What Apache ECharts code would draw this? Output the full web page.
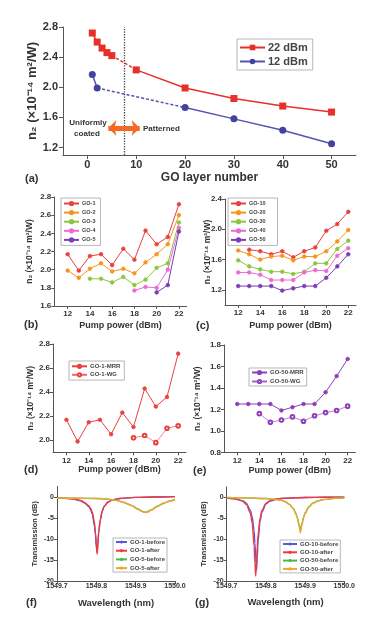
<!DOCTYPE html>
<html><head><meta charset="utf-8">
<script src="https://cdn.jsdelivr.net/npm/echarts@6/dist/echarts.min.js"></script>
<style>html,body{margin:0;padding:0;background:#fff}#c{width:387px;height:632px}</style>
</head><body><div id="c"></div>
<script>
// ---------------- DATA ----------------
// (a) n2 vs GO layer number
const layers22 = [1, 2, 3, 4, 5, 10, 20, 30, 40, 50];
const n2At22dBm = [2.72, 2.60, 2.52, 2.46, 2.42, 2.23, 1.99, 1.85, 1.75, 1.67];
const layers12 = [1, 2, 20, 30, 40, 50];
const n2At12dBm = [2.17, 1.99, 1.73, 1.58, 1.43, 1.25];
const boundaryLayer = 7.5;
const ticksLayer = [0, 10, 20, 30, 40, 50];
const ticksN2a = [1.2, 1.6, 2.0, 2.4, 2.8];

// pump power axis (b)-(e)
const pump = [12, 13, 14, 15, 16, 17, 18, 19, 20, 21, 22];
const ticksPump = [12, 14, 16, 18, 20, 22];

// (b)
const go1 = [2.17, 1.99, 2.15, 2.17, 2.05, 2.23, 2.11, 2.43, 2.28, 2.36, 2.72];
const go2 = [1.99, 1.91, 2.01, 2.07, 1.98, 2.01, 1.96, 2.08, 2.17, 2.28, 2.60];
const go3 = [null, null, 1.90, 1.90, 1.86, 1.92, 1.83, 1.89, 2.02, 2.07, 2.52];
const go4 = [null, null, null, null, null, null, 1.77, 1.81, 1.80, 2.00, 2.46];
const go5 = [null, null, null, null, null, null, null, null, 1.75, 1.83, 2.42];
const ticksN2b = [1.6, 1.8, 2.0, 2.2, 2.4, 2.6, 2.8];

// (c)
const go10 = [null, 1.73, 1.71, 1.67, 1.71, 1.63, 1.71, 1.76, 1.98, 2.07, 2.23];
const go20 = [1.72, 1.67, 1.60, 1.64, 1.65, 1.59, 1.64, 1.64, 1.71, 1.84, 1.99];
const go30 = [1.59, 1.51, 1.47, 1.44, 1.44, 1.41, 1.44, 1.55, 1.55, 1.74, 1.85];
const go40 = [1.43, 1.43, 1.40, 1.33, 1.33, 1.33, 1.43, 1.46, 1.45, 1.65, 1.75];
const go50 = [1.25, 1.25, 1.25, 1.25, 1.19, 1.22, 1.25, 1.25, 1.36, 1.51, 1.67];
const ticksN2c = [1.2, 1.6, 2.0, 2.4];

// (d)
const go1MRR = [2.17, 1.99, 2.15, 2.17, 2.05, 2.23, 2.11, 2.43, 2.28, 2.36, 2.72];
const go1WG = [null, null, null, null, null, null, 2.02, 2.04, 1.98, 2.10, 2.12];
const ticksN2d = [2.0, 2.2, 2.4, 2.6, 2.8];

// (e)
const go50MRR = [1.25, 1.25, 1.25, 1.25, 1.19, 1.22, 1.25, 1.25, 1.36, 1.51, 1.67];
const go50WG = [null, null, 1.16, 1.08, 1.10, 1.13, 1.09, 1.14, 1.17, 1.19, 1.23];
const ticksN2e = [0.8, 1.0, 1.2, 1.4, 1.6, 1.8];

// (f) spectra
const wlGo1 = [1549.700, 1549.720, 1549.740, 1549.760, 1549.770, 1549.780, 1549.785, 1549.790, 1549.795, 1549.798, 1549.800, 1549.802, 1549.804, 1549.806, 1549.810, 1549.815, 1549.820, 1549.830, 1549.840, 1549.860, 1549.880, 1549.900, 1549.950, 1550.000];
const go1Before = [-0.2, -0.3, -0.5, -0.9, -1.4, -2.2, -2.9, -4.2, -6.8, -9.2, -12.0, -13.0, -11.0, -8.2, -5.4, -3.3, -2.2, -1.2, -0.7, -0.35, -0.2, -0.1, 0.0, 0.1];
const go1After = [-0.2, -0.3, -0.45, -0.8, -1.3, -2.0, -2.6, -3.7, -6.0, -8.5, -11.5, -13.6, -11.5, -8.5, -5.5, -3.4, -2.2, -1.2, -0.7, -0.35, -0.2, -0.1, 0.0, 0.1];
const wlGo5 = [1549.700, 1549.750, 1549.800, 1549.830, 1549.850, 1549.870, 1549.890, 1549.905, 1549.915, 1549.920, 1549.925, 1549.930, 1549.940, 1549.955, 1549.970, 1549.985, 1550.000];
const go5Before = [-0.25, -0.3, -0.35, -0.5, -0.8, -1.3, -2.0, -2.8, -3.3, -3.5, -3.6, -3.5, -3.0, -2.2, -1.5, -1.0, -0.6];
const go5After = [-0.25, -0.3, -0.35, -0.5, -0.8, -1.3, -2.1, -2.9, -3.4, -3.6, -3.7, -3.6, -3.1, -2.3, -1.6, -1.0, -0.6];

// (g) spectra
const wlGo10 = [1549.700, 1549.720, 1549.740, 1549.750, 1549.760, 1549.765, 1549.770, 1549.772, 1549.774, 1549.776, 1549.778, 1549.780, 1549.785, 1549.790, 1549.800, 1549.810, 1549.830, 1549.850, 1549.900, 1549.950, 1550.000];
const go10Before = [-0.2, -0.35, -0.8, -1.4, -3.0, -4.6, -8.0, -11.0, -14.5, -17.5, -14.5, -10.5, -5.8, -3.5, -1.6, -0.9, -0.4, -0.2, -0.05, 0.0, 0.0];
const go10After = [-0.2, -0.38, -0.9, -1.7, -3.7, -6.2, -11.7, -15.7, -18.8, -15.7, -11.7, -8.9, -5.0, -3.1, -1.45, -0.8, -0.36, -0.2, -0.05, 0.0, 0.0];
const wlGo50 = [1549.700, 1549.750, 1549.800, 1549.820, 1549.840, 1549.850, 1549.860, 1549.870, 1549.876, 1549.880, 1549.884, 1549.888, 1549.892, 1549.896, 1549.900, 1549.910, 1549.920, 1549.935, 1549.950, 1549.975, 1550.000];
const go50Before = [-0.05, -0.15, -0.3, -0.45, -0.75, -1.1, -1.7, -2.7, -3.7, -4.8, -6.3, -8.0, -6.3, -4.8, -3.7, -2.2, -1.35, -0.8, -0.5, -0.25, -0.15];
const go50After = [-0.05, -0.15, -0.3, -0.45, -0.75, -1.1, -1.7, -2.8, -3.9, -5.0, -6.6, -8.5, -6.6, -5.0, -3.9, -2.3, -1.4, -0.8, -0.5, -0.25, -0.15];
const ticksWl = [1549.7, 1549.8, 1549.9, 1550.0];
const ticksTr = [-20, -15, -10, -5, 0];

// ---------------- STYLE ----------------
const FONT = '"Liberation Sans", Arial, sans-serif';
const TXT = '#333';
const AX = '#555';
const N2 = 'n\u2082 (\u00d710\u207b\u00b9\u2074 m\u00b2/W)';
const C = {
  red: '#e8413f', orange: '#f7941d', green: '#8cc63f', pink: '#ec6ad2', purple: '#7a3db8',
  a22: '#e8302a', a12: '#43439f', mrr50: '#8e3fb8',
  sBlue: '#5a5ad8', sRed: '#f03a3a', sGreen: '#4cb84c', sOrange: '#f2a531'
};

const grids = [
  {left: 63, top: 27, width: 293, height: 128},      // a
  {left: 54.3, top: 197, width: 132.4, height: 109}, // b
  {left: 225, top: 199, width: 131, height: 106},    // c
  {left: 53, top: 344, width: 133, height: 108.3},   // d
  {left: 224, top: 345, width: 131.4, height: 107.3},// e
  {left: 57, top: 486.5, width: 118, height: 94.5},  // f
  {left: 226.7, top: 486.8, width: 117.6, height: 94.2} // g
];

function axis(gi, isY, o) {
  return {
    type: 'value', gridIndex: gi, min: o.min, max: o.max,
    name: o.name, nameLocation: 'middle', nameGap: o.nameGap, nameRotate: isY ? 90 : 0,
    nameMoveOverlap: false,
    nameTextStyle: {fontFamily: FONT, fontWeight: 'bold', fontSize: o.nameSize, color: TXT},
    axisLine: {show: true, onZero: false, lineStyle: {color: AX, width: 1}},
    axisTick: {show: true, inside: false, length: o.tickLen || 3, customValues: o.ticks, lineStyle: {color: AX, width: 1}},
    axisLabel: {show: true, customValues: o.ticks, formatter: o.fmt, fontFamily: FONT, fontWeight: 'bold',
      fontSize: o.labelSize, color: TXT, margin: o.margin || 3},
    splitLine: {show: false}
  };
}
const f1 = v => Number(v).toFixed(1);
const f0 = v => String(Math.round(v));

const xAxes = [
  axis(0, false, {min: -5, max: 55, ticks: ticksLayer, fmt: f0, name: 'GO layer number', nameGap: 17, nameSize: 12, labelSize: 11, tickLen: 4, margin: 4}),
  axis(1, false, {min: 10.8, max: 22.7, ticks: ticksPump, fmt: f0, name: 'Pump power (dBm)', nameGap: 15.5, nameSize: 9, labelSize: 8, margin: 4}),
  axis(2, false, {min: 10.8, max: 22.7, ticks: ticksPump, fmt: f0, name: 'Pump power (dBm)', nameGap: 16.5, nameSize: 9, labelSize: 8, margin: 4}),
  axis(3, false, {min: 10.8, max: 22.7, ticks: ticksPump, fmt: f0, name: 'Pump power (dBm)', nameGap: 12.7, nameSize: 9, labelSize: 8, margin: 4}),
  axis(4, false, {min: 10.8, max: 22.7, ticks: ticksPump, fmt: f0, name: 'Pump power (dBm)', nameGap: 14.2, nameSize: 9, labelSize: 8, margin: 4}),
  axis(5, false, {min: 1549.7, max: 1550.0, ticks: ticksWl, fmt: f1, name: 'Wavelength (nm)', nameGap: 17, nameSize: 9.5, labelSize: 7, margin: 2}),
  axis(6, false, {min: 1549.7, max: 1550.0, ticks: ticksWl, fmt: f1, name: 'Wavelength (nm)', nameGap: 16, nameSize: 9.5, labelSize: 7, margin: 2})
];
const yAxes = [
  axis(0, true, {min: 1.1, max: 2.8, ticks: ticksN2a, fmt: f1, name: N2, nameGap: 24.5, nameSize: 13, labelSize: 11, tickLen: 4, margin: 5}),
  axis(1, true, {min: 1.6, max: 2.8, ticks: ticksN2b, fmt: f1, name: N2, nameGap: 20, nameSize: 8.5, labelSize: 8}),
  axis(2, true, {min: 1.0, max: 2.4, ticks: ticksN2c, fmt: f1, name: N2, nameGap: 13, nameSize: 8.5, labelSize: 8}),
  axis(3, true, {min: 1.9, max: 2.8, ticks: ticksN2d, fmt: f1, name: N2, nameGap: 18.3, nameSize: 8.5, labelSize: 8}),
  axis(4, true, {min: 0.8, max: 1.8, ticks: ticksN2e, fmt: f1, name: N2, nameGap: 22, nameSize: 8.5, labelSize: 8}),
  axis(5, true, {min: -20, max: 2.5, ticks: ticksTr, fmt: f0, name: 'Transmission (dB)', nameGap: 18.5, nameSize: 7.5, labelSize: 7}),
  axis(6, true, {min: -20, max: 2.5, ticks: ticksTr, fmt: f0, name: 'Transmission (dB)', nameGap: 18.5, nameSize: 7.5, labelSize: 7})
];

function pairs(xs, ys) { return xs.map((x, i) => [x, ys[i] == null ? '-' : ys[i]]); }
function withBreak(xs, ys, after) {
  const d = [];
  xs.forEach((x, i) => { d.push([x, ys[i]]); if (i === after) d.push([x, '-']); });
  return d;
}
function pumpSeries(name, gi, ys, color, opt) {
  opt = opt || {};
  return {
    type: 'line', name, xAxisIndex: gi, yAxisIndex: gi, data: pairs(pump, ys),
    symbol: opt.symbol || 'circle', symbolSize: opt.size || 3.6, connectNulls: false,
    itemStyle: {color, borderColor: color, borderWidth: 0.8},
    lineStyle: {color, width: opt.width || 1, opacity: opt.opacity || 1}, z: 3
  };
}
function specSeries(name, gi, xs, ys, color) {
  return {
    type: 'line', name, xAxisIndex: gi, yAxisIndex: gi, data: pairs(xs, ys),
    showSymbol: false, symbol: 'none', smooth: 0.3, smoothMonotone: 'x',
    itemStyle: {color}, lineStyle: {color, width: 1.4}
  };
}

const series = [
  // (a)
  {type: 'line', name: '22 dBm', xAxisIndex: 0, yAxisIndex: 0, data: withBreak(layers22, n2At22dBm, 4),
   symbol: 'rect', symbolSize: 7, itemStyle: {color: C.a22}, lineStyle: {color: C.a22, width: 1.5}, z: 4,
   markLine: {silent: true, symbol: 'none', label: {show: false},
     lineStyle: {type: 'dotted', color: '#444', width: 1.3}, data: [{xAxis: boundaryLayer}]}},
  {type: 'line', name: '22 dBm link', xAxisIndex: 0, yAxisIndex: 0,
   data: [[layers22[4], n2At22dBm[4]], [layers22[5], n2At22dBm[5]]],
   symbol: 'none', lineStyle: {color: C.a22, width: 1.5, type: [3, 2]}, z: 3},
  {type: 'line', name: '12 dBm', xAxisIndex: 0, yAxisIndex: 0, data: withBreak(layers12, n2At12dBm, 1),
   symbol: 'circle', symbolSize: 7, itemStyle: {color: C.a12}, lineStyle: {color: '#5454b0', width: 1.5}, z: 4},
  {type: 'line', name: '12 dBm link', xAxisIndex: 0, yAxisIndex: 0,
   data: [[layers12[1], n2At12dBm[1]], [layers12[2], n2At12dBm[2]]],
   symbol: 'none', lineStyle: {color: '#5454b0', width: 1.5, type: [3, 2]}, z: 3,
   markLine: {silent: true, symbol: ['arrow', 'arrow'], symbolSize: [12, 8], label: {show: false},
     lineStyle: {type: 'solid', color: '#f26a24', width: 5, opacity: 1},
     data: [[{coord: [4.3, 1.46]}, {coord: [10.7, 1.46]}]]}},
  // (b)
  pumpSeries('GO-1', 1, go1, C.red),
  pumpSeries('GO-2', 1, go2, C.orange),
  pumpSeries('GO-3', 1, go3, C.green),
  pumpSeries('GO-4', 1, go4, C.pink),
  pumpSeries('GO-5', 1, go5, C.purple),
  // (c)
  pumpSeries('GO-10', 2, go10, C.red),
  pumpSeries('GO-20', 2, go20, C.orange),
  pumpSeries('GO-30', 2, go30, C.green),
  pumpSeries('GO-40', 2, go40, C.pink),
  pumpSeries('GO-50', 2, go50, C.purple),
  // (d)
  pumpSeries('GO-1-MRR', 3, go1MRR, C.red),
  pumpSeries('GO-1-WG', 3, go1WG, C.red, {symbol: 'emptyCircle', width: 0.8, opacity: 0.8}),
  // (e)
  pumpSeries('GO-50-MRR', 4, go50MRR, C.mrr50),
  pumpSeries('GO-50-WG', 4, go50WG, C.mrr50, {symbol: 'emptyCircle', width: 0.8, opacity: 0.8}),
  // (f)
  specSeries('GO-1-before', 5, wlGo1, go1Before, C.sBlue),
  specSeries('GO-1-after', 5, wlGo1, go1After, C.sRed),
  specSeries('GO-5-before', 5, wlGo5, go5Before, C.sGreen),
  specSeries('GO-5-after', 5, wlGo5, go5After, C.sOrange),
  // (g)
  specSeries('GO-10-before', 6, wlGo10, go10Before, C.sBlue),
  specSeries('GO-10-after', 6, wlGo10, go10After, C.sRed),
  specSeries('GO-50-before', 6, wlGo50, go50Before, C.sGreen),
  specSeries('GO-50-after', 6, wlGo50, go50After, C.sOrange)
];

function legend(names, left, top, o) {
  return {
    orient: 'vertical', left, top, data: names, selectedMode: false,
    itemWidth: o.w, itemHeight: o.h, itemGap: o.gap, padding: o.pad,
    borderColor: '#999', borderWidth: 0.7, backgroundColor: '#fff',
    textStyle: {fontFamily: FONT, fontWeight: 'bold', fontSize: o.fs, color: '#444', padding: [0, 0, 0, -2]}
  };
}
const legends = [
  legend(['22 dBm', '12 dBm'], 237, 39, {w: 25, h: 7, gap: 3, pad: [3, 5, 3, 2], fs: 11}),
  legend(['GO-1', 'GO-2', 'GO-3', 'GO-4', 'GO-5'], 61, 198, {w: 15, h: 4, gap: 3.1, pad: [2.5, 5, 2.5, 2], fs: 5.5}),
  legend(['GO-10', 'GO-20', 'GO-30', 'GO-40', 'GO-50'], 228, 198, {w: 15, h: 4, gap: 3.1, pad: [2.5, 12, 2.5, 2], fs: 5.5}),
  legend(['GO-1-MRR', 'GO-1-WG'], 69, 361, {w: 15, h: 4, gap: 2.5, pad: [2.3, 4, 2.3, 2], fs: 6}),
  legend(['GO-50-MRR', 'GO-50-WG'], 249, 368, {w: 15, h: 4, gap: 3, pad: [1.5, 3, 1.5, 2], fs: 6}),
  legend(['GO-1-before', 'GO-1-after', 'GO-5-before', 'GO-5-after'], 113, 538, {w: 11, h: 4, gap: 2.7, pad: [1, 2, 1, 2], fs: 6}),
  legend(['GO-10-before', 'GO-10-after', 'GO-50-before', 'GO-50-after'], 280, 540, {w: 14, h: 4, gap: 2.3, pad: [1, 2, 1, 2], fs: 6})
];

function txt(text, x, y, size, align) {
  return {type: 'text', silent: true, z: 10,
    style: {text, x, y, font: 'bold ' + size + 'px ' + FONT, fill: TXT, align: align || 'left', verticalAlign: 'middle'}};
}
const graphics = [
  txt('(a)', 25, 179, 11), txt('(b)', 24, 325, 11), txt('(c)', 196, 326, 11),
  txt('(d)', 24, 470, 11), txt('(e)', 193, 471, 11), txt('(f)', 26, 603, 11), txt('(g)', 195, 603, 11),
  txt('Uniformly', 88, 123, 8, 'center'), txt('coated', 87, 133.5, 8, 'center'),
  txt('Patterned', 143, 128.5, 8, 'left')
];

const chart = echarts.init(document.getElementById('c'), null, {renderer: 'canvas'});
chart.setOption({
  animation: false,
  backgroundColor: '#fff',
  textStyle: {fontFamily: FONT},
  grid: grids,
  xAxis: xAxes,
  yAxis: yAxes,
  legend: legends,
  series,
  graphic: graphics
});
</script>
</body></html>
